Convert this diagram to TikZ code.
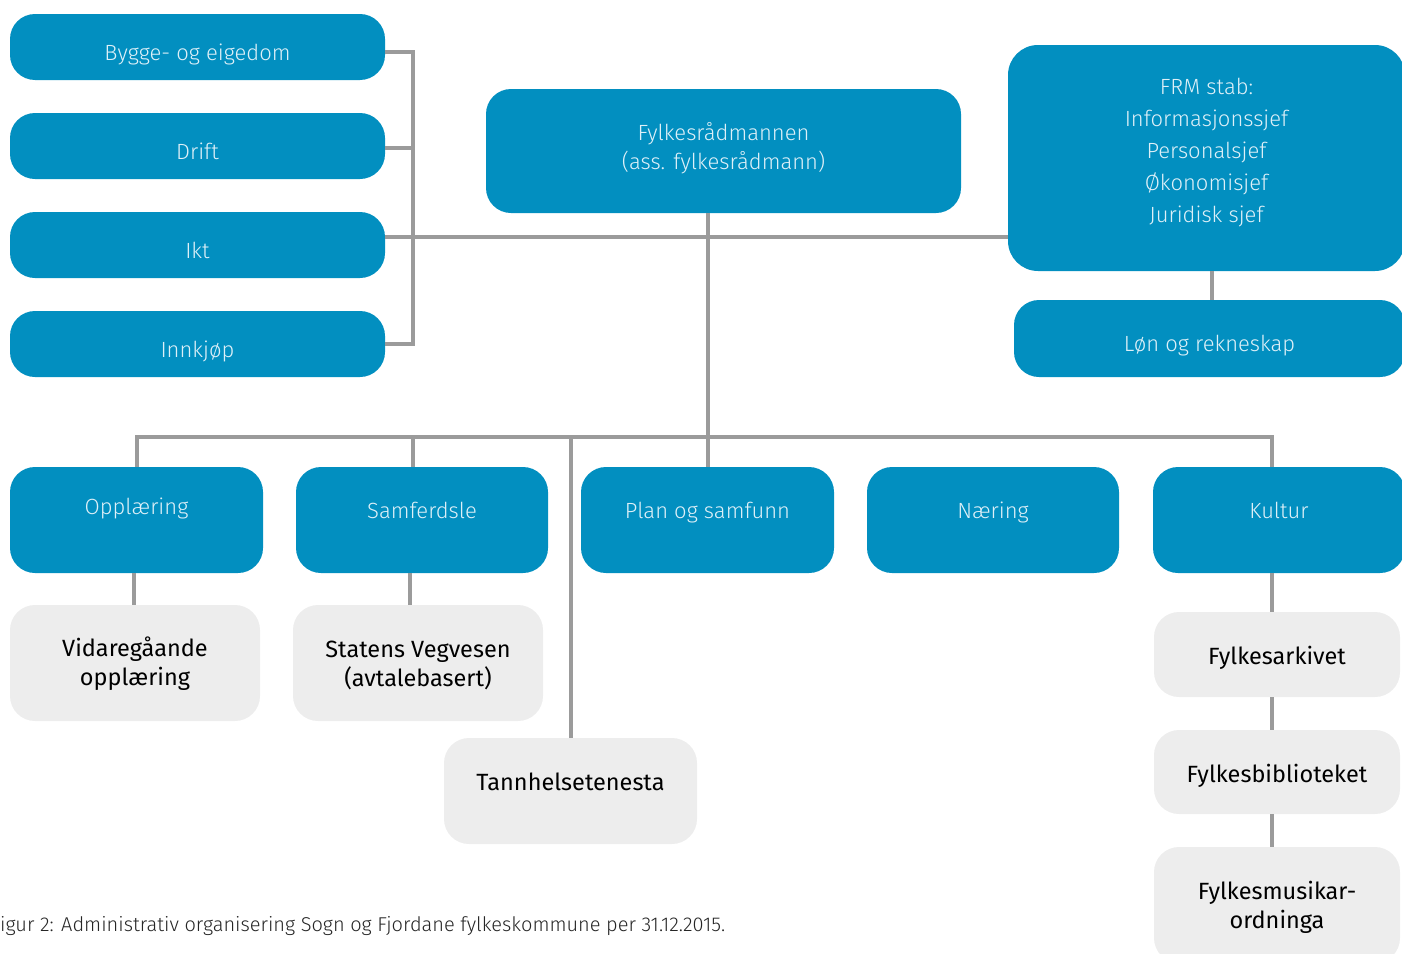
\documentclass[tikz,border=0pt]{standalone}
\usepackage{fontspec}
\setmainfont{Fira Sans}
\newfontfamily\lightfont{Fira Sans Light}
\definecolor{boxblue}{RGB}{2,143,192}
\definecolor{boxgray}{RGB}{237,237,237}
\definecolor{linegray}{RGB}{155,155,155}
\definecolor{lighttext}{RGB}{222,240,248}
\tikzset{
  bluebox/.style={draw=none, fill=boxblue, rounded corners=25pt, text=lighttext,
    font=\lightfont\fontsize{22}{29}\selectfont, align=center, inner sep=0pt},
  oneline/.style={text height=26pt, text depth=0pt},
  graybox/.style={draw=none, fill=boxgray, rounded corners=25pt, text=black,
    font=\fontsize{23.5}{29}\selectfont, align=center, inner sep=0pt},
  bluelabel/.style={text=lighttext, font=\lightfont\fontsize{22}{29}\selectfont,
    text height=18pt, text depth=0pt, inner sep=0pt},
  bluemulti/.style={text=lighttext, font=\lightfont\fontsize{22}{29}\selectfont,
    align=center, inner sep=0pt},
  graymulti/.style={text=black, font=\fontsize{23.5}{29}\selectfont,
    align=center, inner sep=0pt},
  conn/.style={draw=linegray, line width=4pt},
  caption/.style={font=\lightfont\fontsize{20}{24}\selectfont, text=black!85, anchor=west, inner sep=0pt}
}
\begin{document}
\begin{tikzpicture}[x=1pt,y=-1pt]
\useasboundingbox (0,0) rectangle (1402,953);
% left column
\node[bluebox, oneline, minimum width=375pt, minimum height=66pt] (bygge) at (197.5,47) {Bygge- og eigedom};
\node[bluebox, oneline, minimum width=375pt, minimum height=66pt] (drift) at (197.5,146) {Drift};
\node[bluebox, oneline, minimum width=375pt, minimum height=66pt] (ikt) at (197.5,245) {Ikt};
\node[bluebox, oneline, minimum width=375pt, minimum height=66pt] (innkjop) at (197.5,344) {Innkjøp};
% top boxes
\node[bluebox, minimum width=475pt, minimum height=124pt,
  label={[bluemulti, yshift=3pt]center:{Fylkesrådmannen\\(ass. fylkesrådmann)}}] (fylk) at (723.5,151) {};
\node[bluebox, minimum width=397pt, minimum height=226pt, rounded corners=30pt,
  label={[bluemulti, font=\lightfont\fontsize{22}{32}\selectfont, yshift=5pt]center:{FRM stab:\\Informasjonssjef\\Personalsjef\\Økonomisjef\\Juridisk sjef}}] (frm) at (1206.5,158) {};
\node[bluebox, oneline, minimum width=391pt, minimum height=77pt] (lon) at (1209.5,338.5) {Løn og rekneskap};
% row of departments
\node[bluebox, minimum width=253pt, minimum height=106pt, label={[bluelabel, yshift=15pt]center:Opplæring}] (opp) at (136.5,520) {};
\node[bluebox, minimum width=252pt, minimum height=106pt, label={[bluelabel, yshift=11pt]center:Samferdsle}] (samf) at (422,520) {};
\node[bluebox, minimum width=253pt, minimum height=106pt, label={[bluelabel, yshift=11pt]center:Plan og samfunn}] (plan) at (707.5,520) {};
\node[bluebox, minimum width=252pt, minimum height=106pt, label={[bluelabel, yshift=11pt]center:Næring}] (naering) at (993,520) {};
\node[bluebox, minimum width=252pt, minimum height=106pt, label={[bluelabel, yshift=11pt]center:Kultur}] (kultur) at (1279,520) {};
% gray boxes
\node[graybox, minimum width=250pt, minimum height=116pt,
  label={[graymulti, yshift=-1pt]center:{Vidaregåande\\opplæring}}] (vgo) at (135,663) {};
\node[graybox, minimum width=250pt, minimum height=116pt,
  label={[graymulti, yshift=-2pt]center:{Statens Vegvesen\\(avtalebasert)}}] (svv) at (418,663) {};
\node[graybox, minimum width=253pt, minimum height=106pt, text height=16pt, text depth=18pt] (tann) at (570.5,791) {Tannhelsetenesta};
\node[graybox, minimum width=246pt, minimum height=85pt, text height=20pt, text depth=0pt] (arkiv) at (1277,654.5) {Fylkesarkivet};
\node[graybox, minimum width=246pt, minimum height=84pt, text height=20pt, text depth=0pt] (bibl) at (1277,772) {Fylkesbiblioteket};
\node[graybox, minimum width=246pt, minimum height=116pt,
  label={[graymulti, yshift=-2pt]center:{Fylkesmusikar-\\ordninga}}] (musik) at (1277,905) {};
% caption
\node[caption] (cap) at (0,926) {igur 2: Administrativ organisering Sogn og Fjordane fylkeskommune per 31.12.2015.};
% bracket connectors
\coordinate (bx) at (413,237);
\coordinate (bus) at (0,437);
\draw[conn] ([yshift=-5pt]bygge.east) -- ([yshift=-5pt]bygge.east -| bx) -- (innkjop.east -| bx) -- (innkjop.east);
\draw[conn] ([yshift=-2pt]drift.east) -- ([yshift=-2pt]drift.east -| bx);
\draw[conn] ([yshift=8pt]ikt.east) -- ([yshift=8pt]ikt.east -| frm.west);
% main vertical
\draw[conn] (plan.north) -- (plan.north |- fylk.south);
% bus
\draw[conn] (opp.north) -- (opp.north |- bus) -- ([xshift=-7pt]kultur.north |- bus) -- ([xshift=-7pt]kultur.north);
\draw[conn] ([xshift=-9pt]samf.north) -- ([xshift=-9pt]samf.north |- bus);
\draw[conn] (tann.north) -- (tann.north |- bus);
% FRM to Løn
\draw[conn] ([xshift=5.5pt]frm.south) -- ([xshift=5.5pt]frm.south |- lon.north);
% down links
\draw[conn] ([xshift=-3pt]opp.south) -- ([xshift=-3pt]opp.south |- vgo.north);
\draw[conn] ([xshift=-12pt]samf.south) -- ([xshift=-12pt]samf.south |- svv.north);
\draw[conn] ([xshift=-7pt]kultur.south) -- ([xshift=-7pt]kultur.south |- arkiv.north);
\draw[conn] ([xshift=-5pt]arkiv.south) -- ([xshift=-5pt]arkiv.south |- bibl.north);
\draw[conn] ([xshift=-5pt]bibl.south) -- ([xshift=-5pt]bibl.south |- musik.north);
\end{tikzpicture}
\end{document}
